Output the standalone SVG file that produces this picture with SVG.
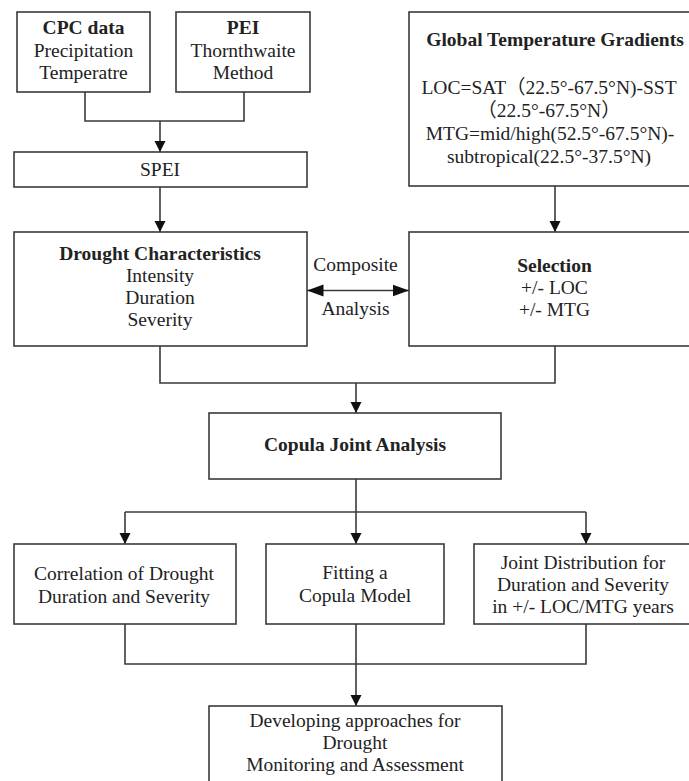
<svg xmlns="http://www.w3.org/2000/svg" width="689" height="781" viewBox="0 0 689 781">
  <style>
    .box { fill: #ffffff; stroke: #3a3a3a; stroke-width: 1.6; }
    .wire { fill: none; stroke: #3a3a3a; stroke-width: 1.6; }
    text { font-family: "Liberation Serif", "Noto Sans CJK SC", serif; font-size: 19.5px; fill: #222222; text-anchor: middle; }
    .b { font-weight: bold; }
  </style>
  <defs>
    <marker id="arrowDown" markerUnits="userSpaceOnUse" markerWidth="12" markerHeight="12" viewBox="0 0 12 12" refX="11" refY="6" orient="auto">
      <path d="M0,0.5 L11,6 L0,11.5 Z" fill="#111111"/>
    </marker>
    <marker id="arrowWide" markerUnits="userSpaceOnUse" markerWidth="17" markerHeight="13" viewBox="0 0 17 13" refX="16.5" refY="6.5" orient="auto-start-reverse">
      <path d="M0,0.5 L16.5,6.5 L0,12.5 Z" fill="#111111"/>
    </marker>
  </defs>

  <rect width="689" height="781" fill="#ffffff"/>

  <!-- connectors -->
  <g id="connectors">
    <path class="wire" d="M85,92 V121 H244 V92"/>
    <path class="wire" d="M160,121 V152" marker-end="url(#arrowDown)"/>
    <path class="wire" d="M160,187 V232" marker-end="url(#arrowDown)"/>
    <path class="wire" d="M555,186 V232" marker-end="url(#arrowDown)"/>
    <path class="wire" d="M307,290.5 H409" marker-start="url(#arrowWide)" marker-end="url(#arrowWide)"/>
    <path class="wire" d="M160,346 V383 H555 V346"/>
    <path class="wire" d="M356,383 V413" marker-end="url(#arrowDown)"/>
    <path class="wire" d="M356,479 V512"/>
    <path class="wire" d="M125,512 H586"/>
    <path class="wire" d="M125,512 V544" marker-end="url(#arrowDown)"/>
    <path class="wire" d="M356,512 V544" marker-end="url(#arrowDown)"/>
    <path class="wire" d="M586,512 V544" marker-end="url(#arrowDown)"/>
    <path class="wire" d="M125,624 V664 H586 V624"/>
    <path class="wire" d="M356,624 V706" marker-end="url(#arrowDown)"/>
    <text x="355.5" y="271">Composite</text>
    <text x="355.5" y="315">Analysis</text>
  </g>

  <g id="cpc-data">
    <rect class="box" x="17" y="12" width="133" height="80"/>
    <text class="b" x="83.5" y="34">CPC data</text>
    <text x="83.5" y="57">Precipitation</text>
    <text x="83.5" y="79">Temperatre</text>
  </g>

  <g id="pei">
    <rect class="box" x="176" y="12" width="134" height="80"/>
    <text class="b" x="243" y="34">PEI</text>
    <text x="243" y="57">Thornthwaite</text>
    <text x="243" y="79">Method</text>
  </g>

  <g id="global-gradients">
    <rect class="box" x="409" y="12" width="290" height="174"/>
    <text class="b" x="555" y="46">Global Temperature Gradients</text>
    <text x="549" y="94">LOC=SAT（22.5°-67.5°N)-SST</text>
    <text x="549" y="117">（22.5°-67.5°N）</text>
    <text x="550" y="140">MTG=mid/high(52.5°-67.5°N)-</text>
    <text x="549" y="163">subtropical(22.5°-37.5°N)</text>
  </g>

  <g id="spei">
    <rect class="box" x="14" y="152" width="293" height="35"/>
    <text x="160" y="176">SPEI</text>
  </g>

  <g id="drought-characteristics">
    <rect class="box" x="14" y="232" width="293" height="114"/>
    <text class="b" x="160" y="260">Drought Characteristics</text>
    <text x="160" y="282">Intensity</text>
    <text x="160" y="304">Duration</text>
    <text x="160" y="326">Severity</text>
  </g>

  <g id="selection">
    <rect class="box" x="409" y="232" width="290" height="114"/>
    <text class="b" x="554.5" y="272">Selection</text>
    <text x="554.5" y="294">+/- LOC</text>
    <text x="554.5" y="316">+/- MTG</text>
  </g>

  <g id="copula-joint-analysis">
    <rect class="box" x="209" y="413" width="292" height="66"/>
    <text class="b" x="355" y="451">Copula Joint Analysis</text>
  </g>

  <g id="correlation">
    <rect class="box" x="14" y="544" width="222" height="80"/>
    <text x="124" y="580">Correlation of Drought</text>
    <text x="124" y="603">Duration and Severity</text>
  </g>

  <g id="fitting-copula">
    <rect class="box" x="266" y="544" width="178" height="80"/>
    <text x="355" y="579">Fitting a</text>
    <text x="355" y="602">Copula Model</text>
  </g>

  <g id="joint-distribution">
    <rect class="box" x="474" y="544" width="225" height="80"/>
    <text x="583" y="569">Joint Distribution for</text>
    <text x="583" y="591">Duration and Severity</text>
    <text x="583" y="613">in +/- LOC/MTG years</text>
  </g>

  <g id="monitoring-assessment">
    <rect class="box" x="209" y="706" width="293" height="90"/>
    <text x="355" y="727">Developing approaches for</text>
    <text x="355" y="749">Drought</text>
    <text x="355" y="771">Monitoring and Assessment</text>
  </g>
</svg>
